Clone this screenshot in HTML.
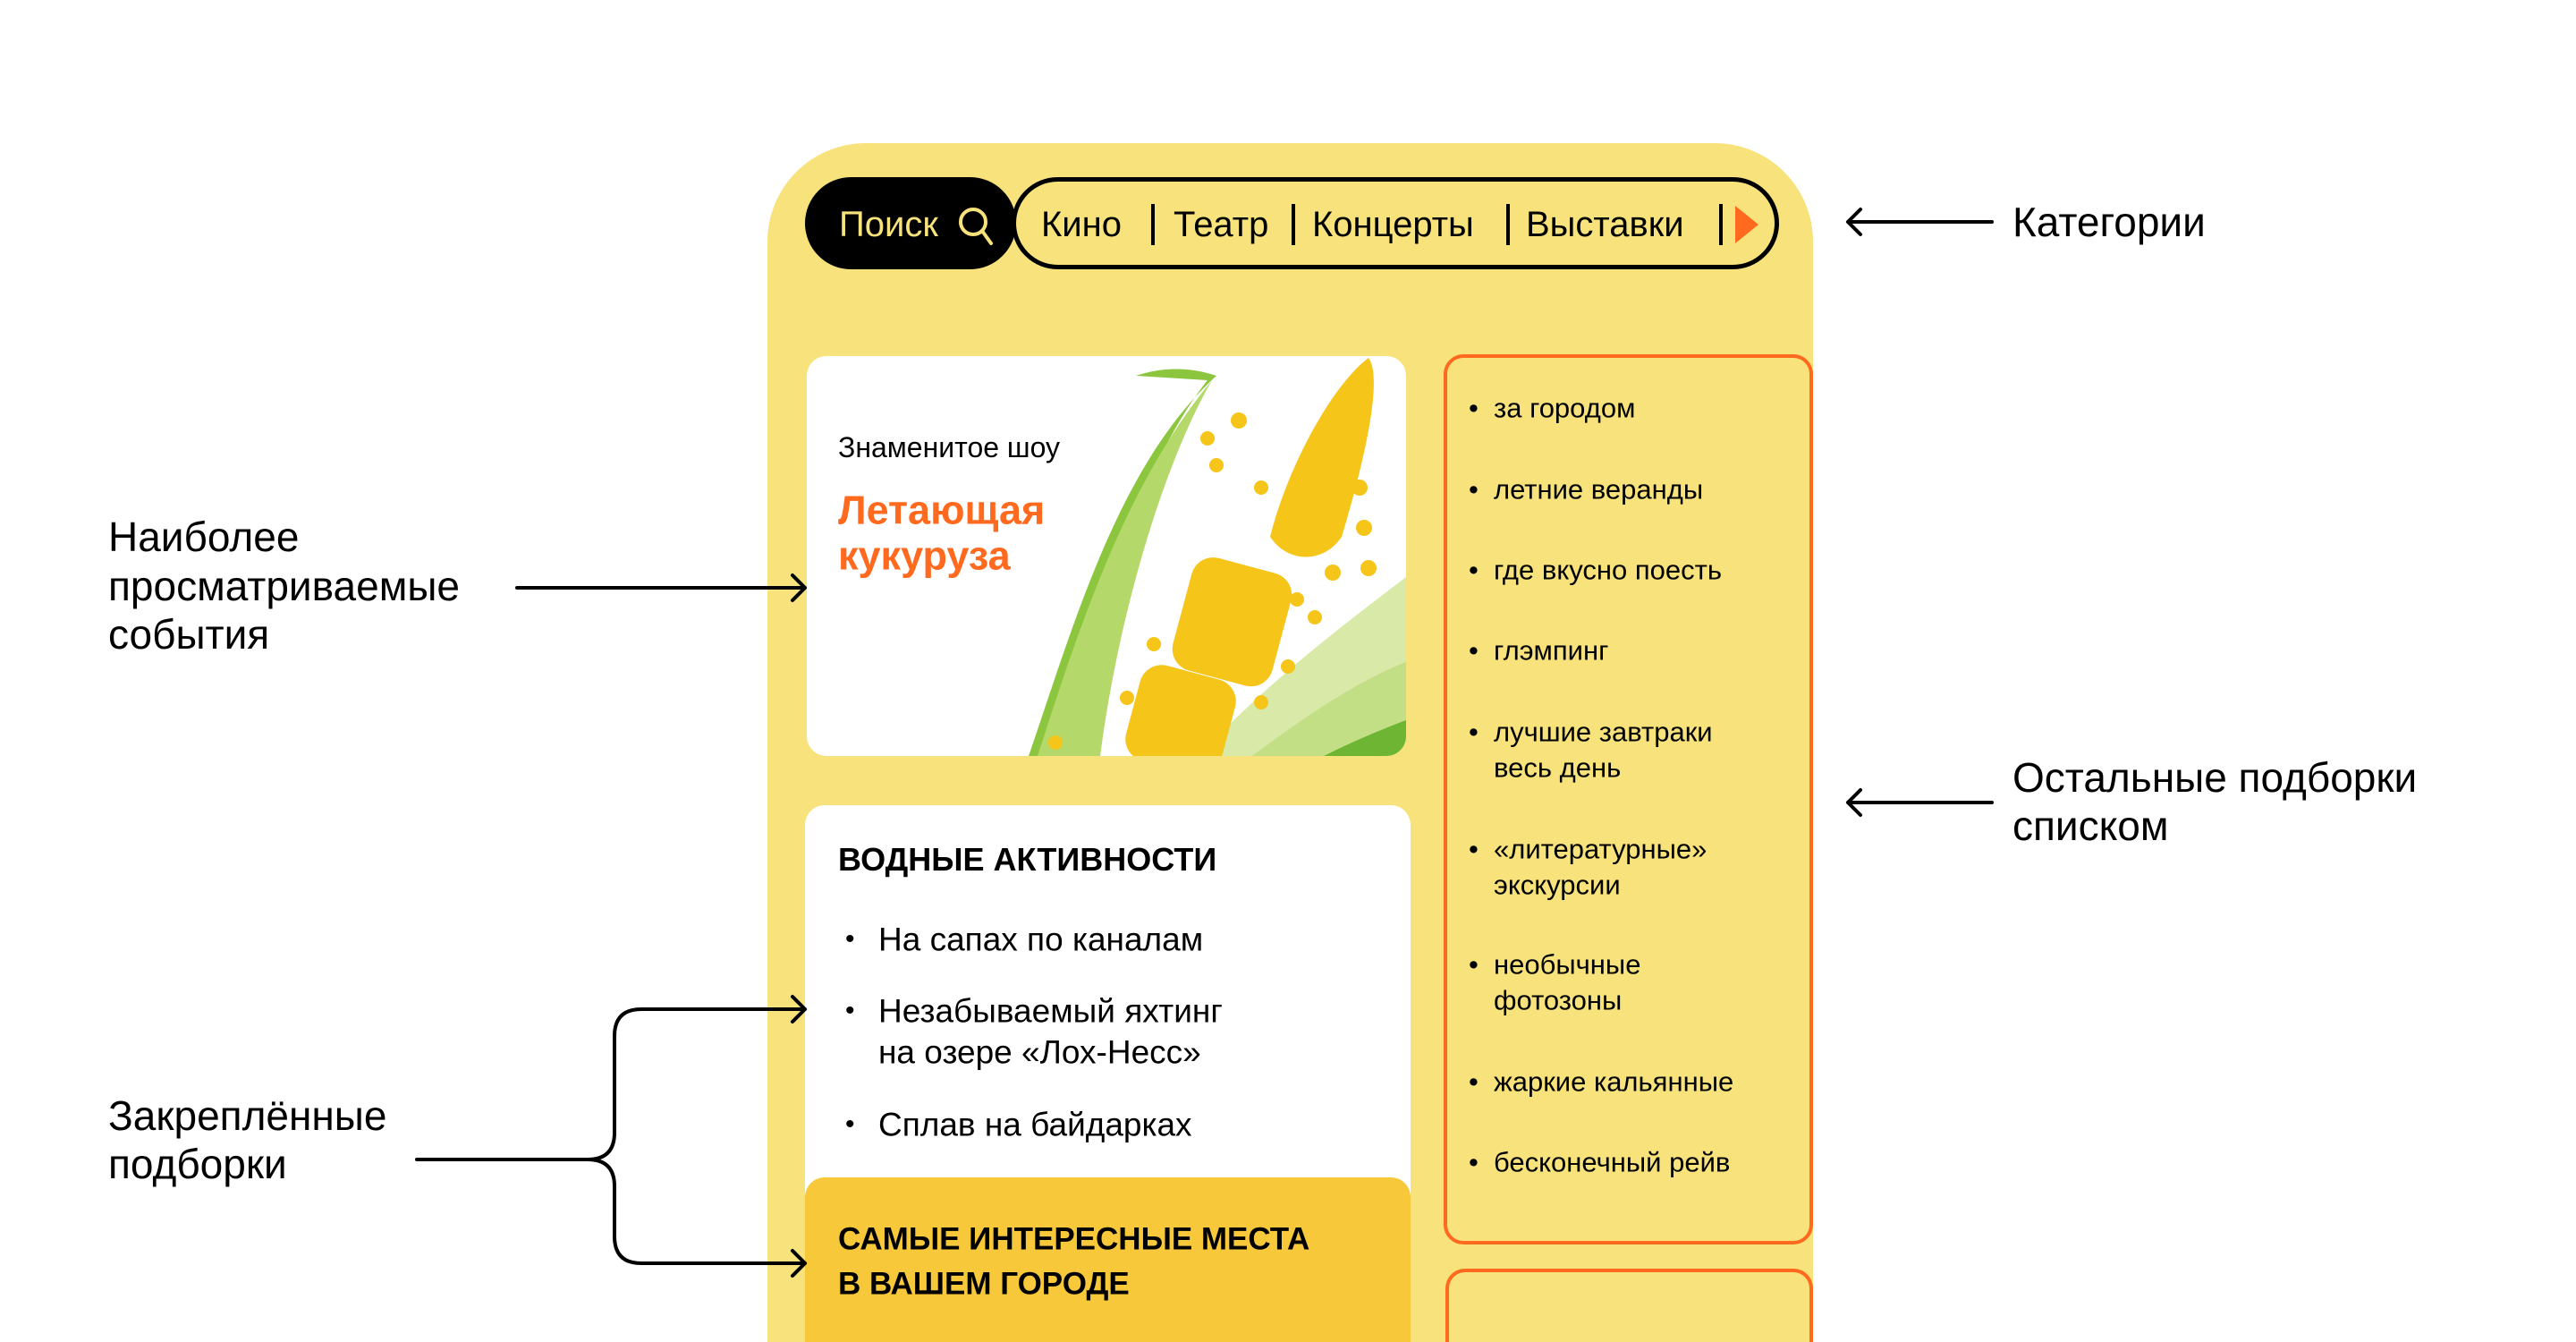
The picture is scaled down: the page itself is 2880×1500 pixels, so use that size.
<!DOCTYPE html>
<html style="overflow:hidden"><head><meta charset="utf-8"><style>
*{margin:0;padding:0;box-sizing:border-box}
html,body{width:2880px;height:1500px;overflow:hidden}
body{background:#fff;font-family:"Liberation Sans","DejaVu Sans",sans-serif;color:#000}
#w{position:relative;width:2880px;height:1500px;overflow:hidden}
.a{position:absolute}
.t{position:absolute;white-space:nowrap;line-height:1;transform:translateY(-50%)}
</style></head><body><div id="w">
<div class="a" style="left:858px;top:160px;width:1169px;height:1340px;background:#f7e27b;border-radius:110px 110px 0 0"></div>
<div class="a" style="left:900px;top:198px;width:236px;height:103px;background:#000;border-radius:52px"></div>
<div class="t" style="left:938px;top:251px;font-size:40px;color:#f7e27b">Поиск</div>
<svg class="a" style="left:1068px;top:228px" width="50" height="50"><circle cx="20" cy="20" r="14" fill="none" stroke="#f7e27b" stroke-width="4"/><line x1="30" y1="30" x2="40" y2="44" stroke="#f7e27b" stroke-width="4" stroke-linecap="round"/></svg>
<div class="a" style="left:1131px;top:198px;width:858px;height:103px;border:5px solid #000;border-radius:52px"></div>
<div class="t" style="left:1164px;top:251px;font-size:40px">Кино</div>
<div class="a" style="left:1287px;top:228px;width:4px;height:46px;background:#000"></div>
<div class="t" style="left:1312px;top:251px;font-size:40px">Театр</div>
<div class="a" style="left:1444px;top:228px;width:4px;height:46px;background:#000"></div>
<div class="t" style="left:1467px;top:251px;font-size:40px">Концерты</div>
<div class="a" style="left:1684px;top:228px;width:4px;height:46px;background:#000"></div>
<div class="t" style="left:1706px;top:251px;font-size:40px">Выставки</div>
<div class="a" style="left:1922px;top:228px;width:4px;height:46px;background:#000"></div>
<svg class="a" style="left:1938px;top:228px" width="32" height="46"><polygon points="2,2 28,23 2,44" fill="#ff6a1f"/></svg>

<div class="a" style="left:902px;top:398px;width:670px;height:447px;background:#fff;border-radius:22px;overflow:hidden">
<svg width="670" height="447" viewBox="902 398 670 447" style="position:absolute;left:0;top:0">
<path d="M1150,845 C1200,700 1250,520 1360,420 C1330,410 1300,410 1270,420 L1350,425 C1290,500 1230,650 1190,845 Z" fill="#8cc63f"/>
<path d="M1160,845 C1210,690 1260,540 1355,425 C1300,520 1250,690 1230,845 Z" fill="#b5d86a"/>
<path d="M1340,845 C1420,760 1500,700 1572,645 L1572,845 Z" fill="#d8e9a8"/>
<path d="M1400,845 C1460,800 1520,760 1572,740 L1572,845 Z" fill="#c3df86"/>
<path d="M1480,845 C1510,830 1545,815 1572,805 L1572,845 Z" fill="#6fb534"/>
<g fill="#f5c51a">
<path d="M1530,400 C1545,420 1530,500 1500,600 C1480,630 1440,630 1420,600 C1440,520 1490,430 1530,400 Z"/>
<rect x="1320" y="630" width="115" height="130" rx="25" transform="rotate(15 1377 695)"/>
<rect x="1265" y="750" width="110" height="110" rx="25" transform="rotate(15 1320 805)"/>
<circle cx="1385" cy="470" r="9"/><circle cx="1350" cy="490" r="8"/><circle cx="1360" cy="520" r="8"/><circle cx="1410" cy="545" r="8"/><circle cx="1520" cy="545" r="9"/><circle cx="1525" cy="590" r="9"/><circle cx="1490" cy="640" r="9"/><circle cx="1530" cy="635" r="9"/><circle cx="1450" cy="670" r="8"/><circle cx="1470" cy="690" r="8"/><circle cx="1440" cy="745" r="8"/><circle cx="1290" cy="720" r="8"/><circle cx="1260" cy="780" r="8"/><circle cx="1410" cy="785" r="8"/><circle cx="1180" cy="830" r="8"/>
</g>
</svg></div>
<div class="t" style="left:937px;top:500px;font-size:32px">Знаменитое шоу</div>
<div class="t" style="left:937px;top:570px;font-size:45px;font-weight:bold;color:#ff6a1f">Летающая</div>
<div class="t" style="left:937px;top:621px;font-size:45px;font-weight:bold;color:#ff6a1f">кукуруза</div>

<div class="a" style="left:1614px;top:396px;width:413px;height:995px;border:4px solid #ff6a1f;border-radius:22px"></div>
<div class="a" style="left:1616px;top:1418px;width:411px;height:82px;border:4px solid #ff6a1f;border-bottom:none;border-radius:22px 22px 0 0"></div>
<div style="position:absolute;left:0;top:0;font-size:31px">
<div class="t" style="left:1642px;top:456px">•</div><div class="t" style="left:1670px;top:456px">за городом</div>
<div class="t" style="left:1642px;top:547px">•</div><div class="t" style="left:1670px;top:547px">летние веранды</div>
<div class="t" style="left:1642px;top:637px">•</div><div class="t" style="left:1670px;top:637px">где вкусно поесть</div>
<div class="t" style="left:1642px;top:727px">•</div><div class="t" style="left:1670px;top:727px">глэмпинг</div>
<div class="t" style="left:1642px;top:818px">•</div><div class="t" style="left:1670px;top:818px">лучшие завтраки</div><div class="t" style="left:1670px;top:858px">весь день</div>
<div class="t" style="left:1642px;top:949px">•</div><div class="t" style="left:1670px;top:949px">«литературные»</div><div class="t" style="left:1670px;top:989px">экскурсии</div>
<div class="t" style="left:1642px;top:1078px">•</div><div class="t" style="left:1670px;top:1078px">необычные</div><div class="t" style="left:1670px;top:1118px">фотозоны</div>
<div class="t" style="left:1642px;top:1209px">•</div><div class="t" style="left:1670px;top:1209px">жаркие кальянные</div>
<div class="t" style="left:1642px;top:1299px">•</div><div class="t" style="left:1670px;top:1299px">бесконечный рейв</div>
</div>

<div class="a" style="left:900px;top:900px;width:677px;height:600px;background:#fff;border-radius:22px 22px 0 0"></div>
<div class="t" style="left:937px;top:961px;font-size:36px;font-weight:bold">ВОДНЫЕ АКТИВНОСТИ</div>
<div style="position:absolute;left:0;top:0;font-size:37px">
<div class="t" style="left:945px;top:1050px;font-size:30px">•</div><div class="t" style="left:982px;top:1050px">На сапах по каналам</div>
<div class="t" style="left:945px;top:1130px;font-size:30px">•</div><div class="t" style="left:982px;top:1130px">Незабываемый яхтинг</div><div class="t" style="left:982px;top:1176px">на озере «Лох-Несс»</div>
<div class="t" style="left:945px;top:1257px;font-size:30px">•</div><div class="t" style="left:982px;top:1257px">Сплав на байдарках</div>
</div>
<div class="a" style="left:900px;top:1316px;width:677px;height:184px;background:#f7c83a;border-radius:22px 22px 0 0"></div>
<div class="t" style="left:937px;top:1385px;font-size:35px;font-weight:bold">САМЫЕ ИНТЕРЕСНЫЕ МЕСТА</div>
<div class="t" style="left:937px;top:1435px;font-size:35px;font-weight:bold">В ВАШЕМ ГОРОДЕ</div>

<div class="t" style="left:121px;top:600px;font-size:46px">Наиболее</div>
<div class="t" style="left:121px;top:655px;font-size:46px">просматриваемые</div>
<div class="t" style="left:121px;top:709px;font-size:46px">события</div>
<div class="t" style="left:121px;top:1247px;font-size:46px">Закреплённые</div>
<div class="t" style="left:121px;top:1301px;font-size:46px">подборки</div>
<div class="t" style="left:2250px;top:248px;font-size:46px">Категории</div>
<div class="t" style="left:2250px;top:869px;font-size:46px">Остальные подборки</div>
<div class="t" style="left:2250px;top:923px;font-size:46px">списком</div>

<svg class="a" style="left:0;top:0" width="2880" height="1500" fill="none" stroke="#000" stroke-width="4" stroke-linecap="round" stroke-linejoin="round">
<path d="M578,657 H900 M886,643 L900,657 L886,671"/>
<path d="M466,1296 H657 Q687,1296 687,1266 V1158 Q687,1128 717,1128 H900 M886,1114 L900,1128 L886,1142"/>
<path d="M657,1296 Q687,1296 687,1326 V1382 Q687,1412 717,1412 H900 M886,1398 L900,1412 L886,1426"/>
<path d="M2227,248 H2066 M2080,234 L2066,248 L2080,262"/>
<path d="M2227,897 H2066 M2080,883 L2066,897 L2080,911"/>
</svg>
</div></body></html>
